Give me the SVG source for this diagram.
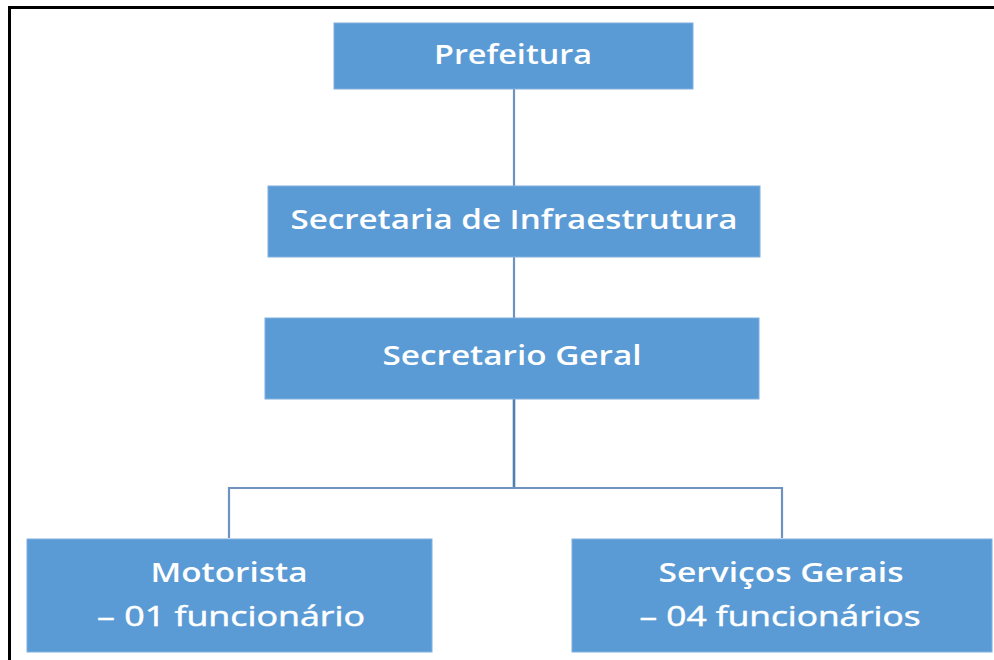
<svg xmlns="http://www.w3.org/2000/svg" width="994" height="660" viewBox="0 0 994 660">
<style>
.box{fill:#5B9BD5;stroke:#7FB0DE;stroke-width:1}
.t{font-family:"Open Sans","DejaVu Sans",sans-serif;font-weight:600;fill:#FFFFFF;font-size:27px;text-anchor:middle}
.r{font-weight:400;font-size:28px;stroke:#FFFFFF;stroke-width:0.5}
.c{fill:none;stroke:#6F93BE;stroke-width:2.2}
.frame{fill:none;stroke:#000000;stroke-width:3}
</style>
<rect x="0" y="0" width="994" height="660" fill="#FFFFFF"/>
<path class="frame" d="M9.5,660 V7.5 H994"/>
<g id="connectors">
<line class="c" x1="514" y1="89" x2="514" y2="186"/>
<line class="c" x1="514" y1="257" x2="514" y2="318"/>
<line class="c" x1="514" y1="399" x2="514" y2="488" style="stroke:#4F7FB3;stroke-width:2.6"/>
<path class="c" d="M229,538 V488 H782 V538"/>
</g>
<g id="prefeitura">
<rect class="box" x="334" y="23" width="359" height="66"/>
<text class="t" x="513" y="64" textLength="158" lengthAdjust="spacingAndGlyphs">Prefeitura</text>
</g>
<g id="secretaria">
<rect class="box" x="268" y="186" width="492" height="71"/>
<text class="t" x="514" y="229" textLength="447" lengthAdjust="spacingAndGlyphs">Secretaria de Infraestrutura</text>
</g>
<g id="secretario">
<rect class="box" x="265" y="318" width="494" height="81"/>
<text class="t" x="512" y="365" textLength="259" lengthAdjust="spacingAndGlyphs">Secretario Geral</text>
</g>
<g id="motorista">
<rect class="box" x="27" y="539" width="405" height="113"/>
<text class="t" x="229" y="582" textLength="157" lengthAdjust="spacingAndGlyphs">Motorista</text>
<text class="t r" x="231" y="626" textLength="268" lengthAdjust="spacingAndGlyphs">– 01 funcionário</text>
</g>
<g id="servicos">
<rect class="box" x="572" y="539" width="420" height="113"/>
<text class="t" x="781" y="582" textLength="245" lengthAdjust="spacingAndGlyphs">Serviços Gerais</text>
<text class="t r" x="780" y="626" textLength="281" lengthAdjust="spacingAndGlyphs">– 04 funcionários</text>
</g>
</svg>
